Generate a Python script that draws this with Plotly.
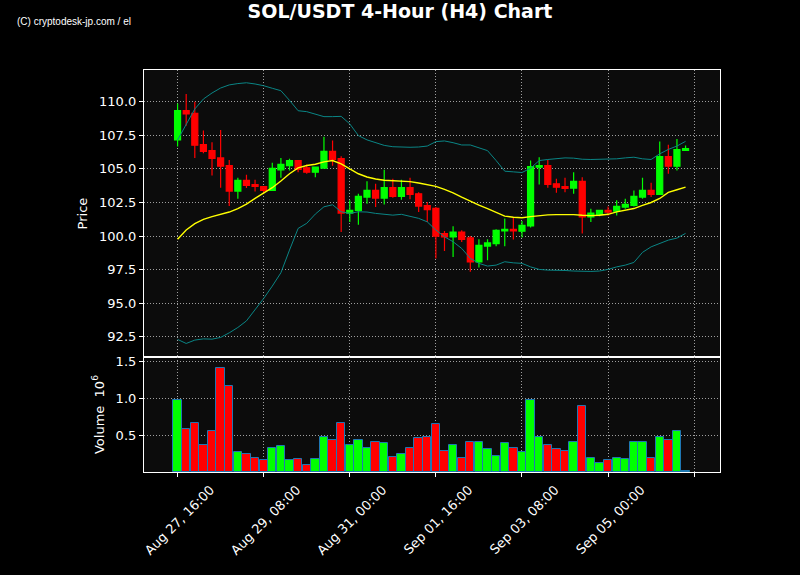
import pandas as pd
import plotly.graph_objects as go
from plotly.subplots import make_subplots

# ---- data ----
start_time = "2024-08-27 16:00"
n_bars = 60

opens = [107.16, 109.33, 109.13, 106.81, 106.36, 105.82, 105.25, 103.35, 104.14, 103.84,
         103.69, 103.40, 104.93, 105.25, 105.62, 105.08, 104.76, 105.05, 106.31, 105.77,
         101.71, 101.91, 102.90, 103.40, 102.83, 103.60, 102.95, 103.60, 103.15, 102.26,
         102.06, 100.19, 99.94, 100.30, 99.86, 98.08, 99.26, 99.44, 100.38, 100.50,
         100.36, 100.75, 105.13, 105.25, 103.89, 103.69, 103.57, 104.07, 101.42, 101.62,
         101.91, 101.86, 102.16, 102.29, 102.90, 103.40, 103.10, 105.92, 105.20, 106.37]
highs = [109.87, 110.57, 110.00, 107.85, 106.98, 107.90, 105.67, 104.34, 104.56, 104.19,
         103.72, 105.45, 105.82, 105.75, 105.64, 105.33, 105.15, 107.40, 107.11, 105.94,
         102.66, 103.15, 104.09, 103.90, 104.93, 104.27, 104.19, 104.34, 103.27, 102.53,
         102.16, 100.38, 100.73, 100.43, 100.01, 99.76, 99.76, 100.50, 101.30, 101.37,
         101.12, 105.62, 105.87, 105.67, 104.27, 104.34, 104.76, 104.38, 102.04, 101.96,
         102.21, 102.66, 102.78, 103.40, 104.34, 103.97, 107.03, 106.79, 107.23, 106.74]
lows = [106.66, 108.22, 105.82, 106.16, 104.51, 103.60, 102.23, 102.78, 103.57, 103.32,
        103.15, 103.35, 104.34, 104.88, 104.76, 104.64, 104.38, 105.05, 105.23, 100.30,
        101.05, 100.85, 102.41, 102.16, 102.36, 102.86, 102.71, 102.75, 101.79, 101.05,
        98.33, 98.89, 98.45, 99.56, 97.34, 97.66, 98.20, 99.24, 99.24, 99.74,
        99.89, 100.63, 103.84, 103.60, 103.23, 103.27, 103.15, 100.19, 101.05, 101.47,
        101.54, 101.54, 102.04, 102.21, 102.78, 102.90, 103.10, 104.64, 104.88, 106.37]
closes = [109.33, 109.09, 106.76, 106.31, 105.79, 105.20, 103.35, 104.14, 103.77, 103.69,
          103.40, 105.05, 105.33, 105.62, 104.96, 104.76, 105.13, 106.31, 105.70, 101.71,
          101.91, 102.95, 103.40, 102.83, 103.60, 102.95, 103.60, 103.10, 102.23, 101.97,
          99.99, 99.94, 100.30, 99.76, 98.08, 99.32, 99.49, 100.43, 100.50, 100.38,
          100.80, 105.18, 105.25, 103.84, 103.64, 103.55, 104.07, 101.42, 101.71, 101.91,
          101.79, 102.21, 102.36, 102.95, 103.40, 103.10, 105.92, 105.20, 106.44, 106.51]
volume_millions = [0.98, 0.58, 0.67, 0.36, 0.55, 1.41, 1.16, 0.27, 0.24, 0.185,
                   0.16, 0.32, 0.35, 0.16, 0.17, 0.10, 0.17, 0.48, 0.44, 0.66,
                   0.36, 0.43, 0.33, 0.41, 0.39, 0.20, 0.24, 0.33, 0.455, 0.47,
                   0.645, 0.29, 0.37, 0.185, 0.41, 0.40, 0.31, 0.21, 0.39, 0.33,
                   0.27, 0.98, 0.48, 0.36, 0.31, 0.28, 0.40, 0.90, 0.185, 0.12,
                   0.16, 0.185, 0.17, 0.40, 0.41, 0.185, 0.48, 0.43, 0.55, 0.02]
bb_middle = [99.76, 100.45, 100.93, 101.25, 101.45, 101.62, 101.79, 102.05, 102.38, 102.80,
             103.20, 103.60, 104.10, 104.64, 105.08, 105.25, 105.35, 105.52, 105.62, 105.38,
             105.00, 104.64, 104.40, 104.25, 104.16, 104.12, 104.08, 104.05, 103.95, 103.85,
             103.70, 103.48, 103.22, 102.90, 102.57, 102.30, 102.05, 101.75, 101.49, 101.40,
             101.37, 101.45, 101.54, 101.58, 101.60, 101.62, 101.60, 101.55, 101.52, 101.55,
             101.62, 101.80, 101.90, 102.05, 102.29, 102.50, 102.80, 103.25, 103.45, 103.64]
bb_upper = [107.16, 108.35, 109.46, 110.20, 110.65, 111.02, 111.25, 111.35, 111.41, 111.32,
            111.19, 111.00, 110.82, 110.10, 109.33, 109.26, 109.08, 108.89, 108.89, 108.91,
            108.35, 107.48, 107.16, 106.95, 106.75, 106.65, 106.61, 106.61, 106.63, 106.70,
            107.03, 107.08, 106.95, 106.78, 106.78, 106.55, 106.36, 105.62, 104.83, 104.78,
            104.73, 105.05, 105.62, 105.70, 105.75, 105.82, 105.80, 105.72, 105.70, 105.70,
            105.70, 105.75, 105.82, 105.87, 105.75, 105.70, 106.12, 106.45, 106.70, 107.05]
bb_lower = [92.31, 92.01, 92.26, 92.35, 92.33, 92.46, 92.80, 93.20, 93.69, 94.49,
            95.36, 96.28, 97.27, 98.96, 100.57, 100.95, 101.64, 102.18, 102.33, 101.81,
            101.69, 101.81, 101.79, 101.69, 101.64, 101.56, 101.62, 101.49, 101.32, 101.06,
            100.45, 99.95, 99.58, 99.08, 98.34, 97.97, 97.77, 97.84, 98.09, 98.01,
            97.97, 97.71, 97.52, 97.47, 97.47, 97.44, 97.40, 97.37, 97.37, 97.40,
            97.52, 97.71, 97.84, 98.04, 98.79, 99.20, 99.46, 99.70, 99.85, 100.20]
tick_times = ["2024-08-27 16:00", "2024-08-29 08:00", "2024-08-31 00:00", "2024-09-01 16:00",
              "2024-09-03 08:00", "2024-09-05 00:00"]
tick_labels = ["Aug 27, 16:00", "Aug 29, 08:00", "Aug 31, 00:00", "Sep 01, 16:00",
               "Sep 03, 08:00", "Sep 05, 00:00"]
unlabeled_tick_times = ["2024-09-06 16:00"]

times = pd.date_range(start_time, periods=n_bars, freq="4h")

UP = "#00ff00"
DOWN = "#ff0000"
vol_colors = [UP if c >= o else DOWN for o, c in zip(opens, closes)]

fig = make_subplots(rows=2, cols=1, shared_xaxes=True, vertical_spacing=0,
                    row_heights=[0.714, 0.286])

fig.add_trace(go.Scatter(x=times, y=bb_upper, mode="lines",
                         line=dict(color="#0a8585", width=1), hoverinfo="skip"), row=1, col=1)
fig.add_trace(go.Scatter(x=times, y=bb_lower, mode="lines",
                         line=dict(color="#0a8585", width=1), hoverinfo="skip"), row=1, col=1)
fig.add_trace(go.Scatter(x=times, y=bb_middle, mode="lines",
                         line=dict(color="#ffff00", width=1.4), hoverinfo="skip"), row=1, col=1)
fig.add_trace(go.Candlestick(x=times, open=opens, high=highs, low=lows, close=closes,
                             increasing=dict(line=dict(color=UP, width=1.2), fillcolor=UP),
                             decreasing=dict(line=dict(color=DOWN, width=1.2), fillcolor=DOWN),
                             whiskerwidth=0),
              row=1, col=1)
fig.add_trace(go.Bar(x=times, y=volume_millions, marker=dict(color=vol_colors,
                     line=dict(color="#1f77b4", width=1)), width=4 * 3600 * 1000 * 0.97),
              row=2, col=1)

x_lo = times[0] - pd.Timedelta(hours=4 * 3.9)
x_hi = times[-1] + pd.Timedelta(hours=4 * 4.0)

GRID_COLOR = "rgba(175,175,175,0.9)"
GRID_DASH = "1px,2px"
grid = dict(showgrid=True, gridcolor=GRID_COLOR, gridwidth=1, griddash=GRID_DASH)
axis_common = dict(showline=True, linecolor="white", linewidth=1.2, mirror=True,
                   ticks="outside", tickcolor="white", ticklen=4, zeroline=False,
                   automargin=False,
                   tickfont=dict(color="white", size=13, family="DejaVu Sans"), **grid)

fig.update_xaxes(range=[x_lo, x_hi], tickmode="array", tickvals=pd.to_datetime(tick_times),
                 ticktext=tick_labels, rangeslider_visible=False,
                 minor=dict(tickmode="array", tickvals=pd.to_datetime(unlabeled_tick_times),
                            ticks="outside", ticklen=4, tickcolor="white", showgrid=True,
                            gridcolor=GRID_COLOR, gridwidth=1, griddash=GRID_DASH),
                 **axis_common)
fig.update_xaxes(showticklabels=False, ticks="", row=1, col=1)
fig.update_xaxes(minor=dict(ticks=""), row=1, col=1)
fig.update_xaxes(tickangle=-45, ticklabelshift=33, row=2, col=1)

fig.update_yaxes(**axis_common)
fig.update_yaxes(range=[91.0, 112.36], tickvals=[92.5, 95, 97.5, 100, 102.5, 105, 107.5, 110],
                 tickformat=".1f",
                 title=dict(text="Price", font=dict(color="white", size=13, family="DejaVu Sans"),
                            standoff=8), row=1, col=1)
fig.update_yaxes(range=[0, 1.56], tickvals=[0.5, 1.0, 1.5], tickformat=".1f",
                 title=dict(text="Volume  10<sup>6</sup>",
                            font=dict(color="white", size=13, family="DejaVu Sans"), standoff=8),
                 row=2, col=1)

fig.update_layout(
    width=800, height=575,
    margin=dict(l=144, r=80, t=70, b=103, autoexpand=False),
    paper_bgcolor="#000000", plot_bgcolor="#0c0c0c",
    showlegend=False, bargap=0, boxgap=0.3, boxgroupgap=0,
    title=dict(text="<b>SOL/USDT 4-Hour (H4) Chart</b>", x=0.5, xanchor="center",
               y=1 - 11 / 575, yanchor="middle",
               font=dict(color="white", size=19, family="DejaVu Sans")),
    annotations=[dict(text="(C) cryptodesk-jp.com / el", xref="paper", yref="paper",
                      x=(15 - 144) / 576, y=1 + (70 - 21) / 402, xanchor="left", yanchor="middle",
                      showarrow=False,
                      font=dict(color="white", size=10, family="Liberation Sans"))],
)

fig.write_html("out.html", config={"displayModeBar": False},
               post_script="document.body.style.margin='0';document.body.style.background='#000';")
